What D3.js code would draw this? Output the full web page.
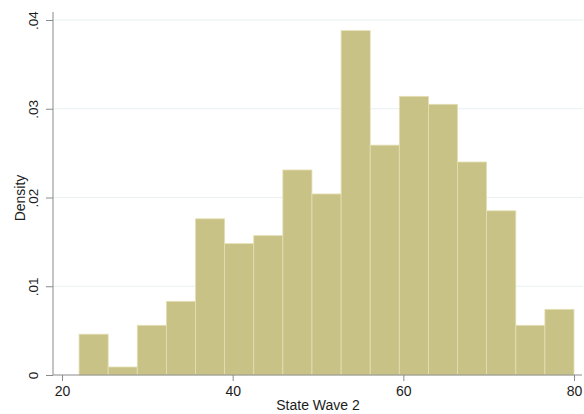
<!DOCTYPE html>
<html>
<head>
<meta charset="utf-8">
<script src="https://cdn.jsdelivr.net/npm/d3@7"></script>
<style>
  body { margin: 0; background: #ffffff; }
  text { font-family: "Liberation Sans", Arial, Helvetica, sans-serif; fill: #1c1c1c; }
</style>
</head>
<body>
<div id="chart"></div>
<script>
// bin edges (State Wave 2) and density of each bin
var binEdges = [22, 25.41, 28.82, 32.24, 35.65, 39.06, 42.47, 45.88, 49.29, 52.71,
  56.12, 59.53, 62.94, 66.35, 69.76, 73.18, 76.59, 80];
var densities = [0.0046, 0.0009, 0.0056, 0.0083, 0.0176, 0.0148, 0.0157, 0.0231, 0.0204,
  0.0388, 0.0259, 0.0314, 0.0305, 0.0240, 0.0185, 0.0056, 0.0074];
var xTicks = [20, 40, 60, 80];
var yTicks = [0, 0.01, 0.02, 0.03, 0.04];
var yTickLabels = ["0", ".01", ".02", ".03", ".04"];

var width = 584, height = 414;

var svg = d3.select("#chart")
  .append("svg")
  .attr("width", width)
  .attr("height", height);

var x = d3.scaleLinear().domain([20, 80]).range([62, 574]);
var y = d3.scaleLinear().domain([0, 0.04]).range([375, 20]);

// gridlines
svg.selectAll(".grid")
  .data(yTicks.slice(1))
  .enter()
  .append("line")
  .attr("x1", 53)
  .attr("x2", 583)
  .attr("y1", function (d) { return y(d); })
  .attr("y2", function (d) { return y(d); })
  .attr("stroke", "#e9f0f2")
  .attr("stroke-width", 1);

// bars
var bins = densities.map(function (d, i) {
  return { x0: binEdges[i], x1: binEdges[i + 1], density: d };
});
svg.selectAll(".bar")
  .data(bins)
  .enter()
  .append("rect")
  .attr("x", function (d) { return x(d.x0); })
  .attr("y", function (d) { return y(d.density); })
  .attr("width", function (d) { return x(d.x1) - x(d.x0); })
  .attr("height", function (d) { return y(0) - y(d.density); })
  .attr("fill", "#c9c286")
  .attr("stroke", "#e4dfb4")
  .attr("stroke-width", 0.8);

// Y axis
var yAxis = svg.append("g")
  .attr("transform", "translate(53,0)")
  .call(d3.axisLeft(y).tickValues(yTicks).tickSize(7).tickPadding(8)
    .tickFormat(function (d, i) { return yTickLabels[i]; }));
yAxis.select(".domain").attr("d", "M0,12V375").attr("stroke", "#8a8a8a");
yAxis.selectAll(".tick line").attr("stroke", "#8a8a8a");
yAxis.selectAll(".tick text")
  .attr("transform", "rotate(-90)")
  .attr("x", 0)
  .attr("y", -15)
  .attr("dy", null)
  .style("text-anchor", "middle")
  .style("font-size", "13.5px")
  .style("font-family", "'Liberation Sans', Arial, sans-serif")
  .attr("fill", "#1c1c1c");

// X axis
var xAxis = svg.append("g")
  .attr("transform", "translate(0,375)")
  .call(d3.axisBottom(x).tickValues(xTicks).tickSize(6).tickPadding(5));
xAxis.select(".domain").attr("d", "M53,0H582").attr("stroke", "#8a8a8a");
xAxis.selectAll(".tick line").attr("stroke", "#8a8a8a");
xAxis.selectAll(".tick text")
  .style("font-size", "14px")
  .style("font-family", "'Liberation Sans', Arial, sans-serif")
  .attr("fill", "#1c1c1c");

// x-axis label
svg.append("text")
  .attr("x", 318)
  .attr("y", 410)
  .style("text-anchor", "middle")
  .style("font-size", "14px")
  .text("State Wave 2");

// y-axis label
svg.append("text")
  .attr("transform", "rotate(-90)")
  .attr("x", -198)
  .attr("y", 25)
  .style("text-anchor", "middle")
  .style("font-size", "14px")
  .text("Density");
</script>
</body>
</html>
